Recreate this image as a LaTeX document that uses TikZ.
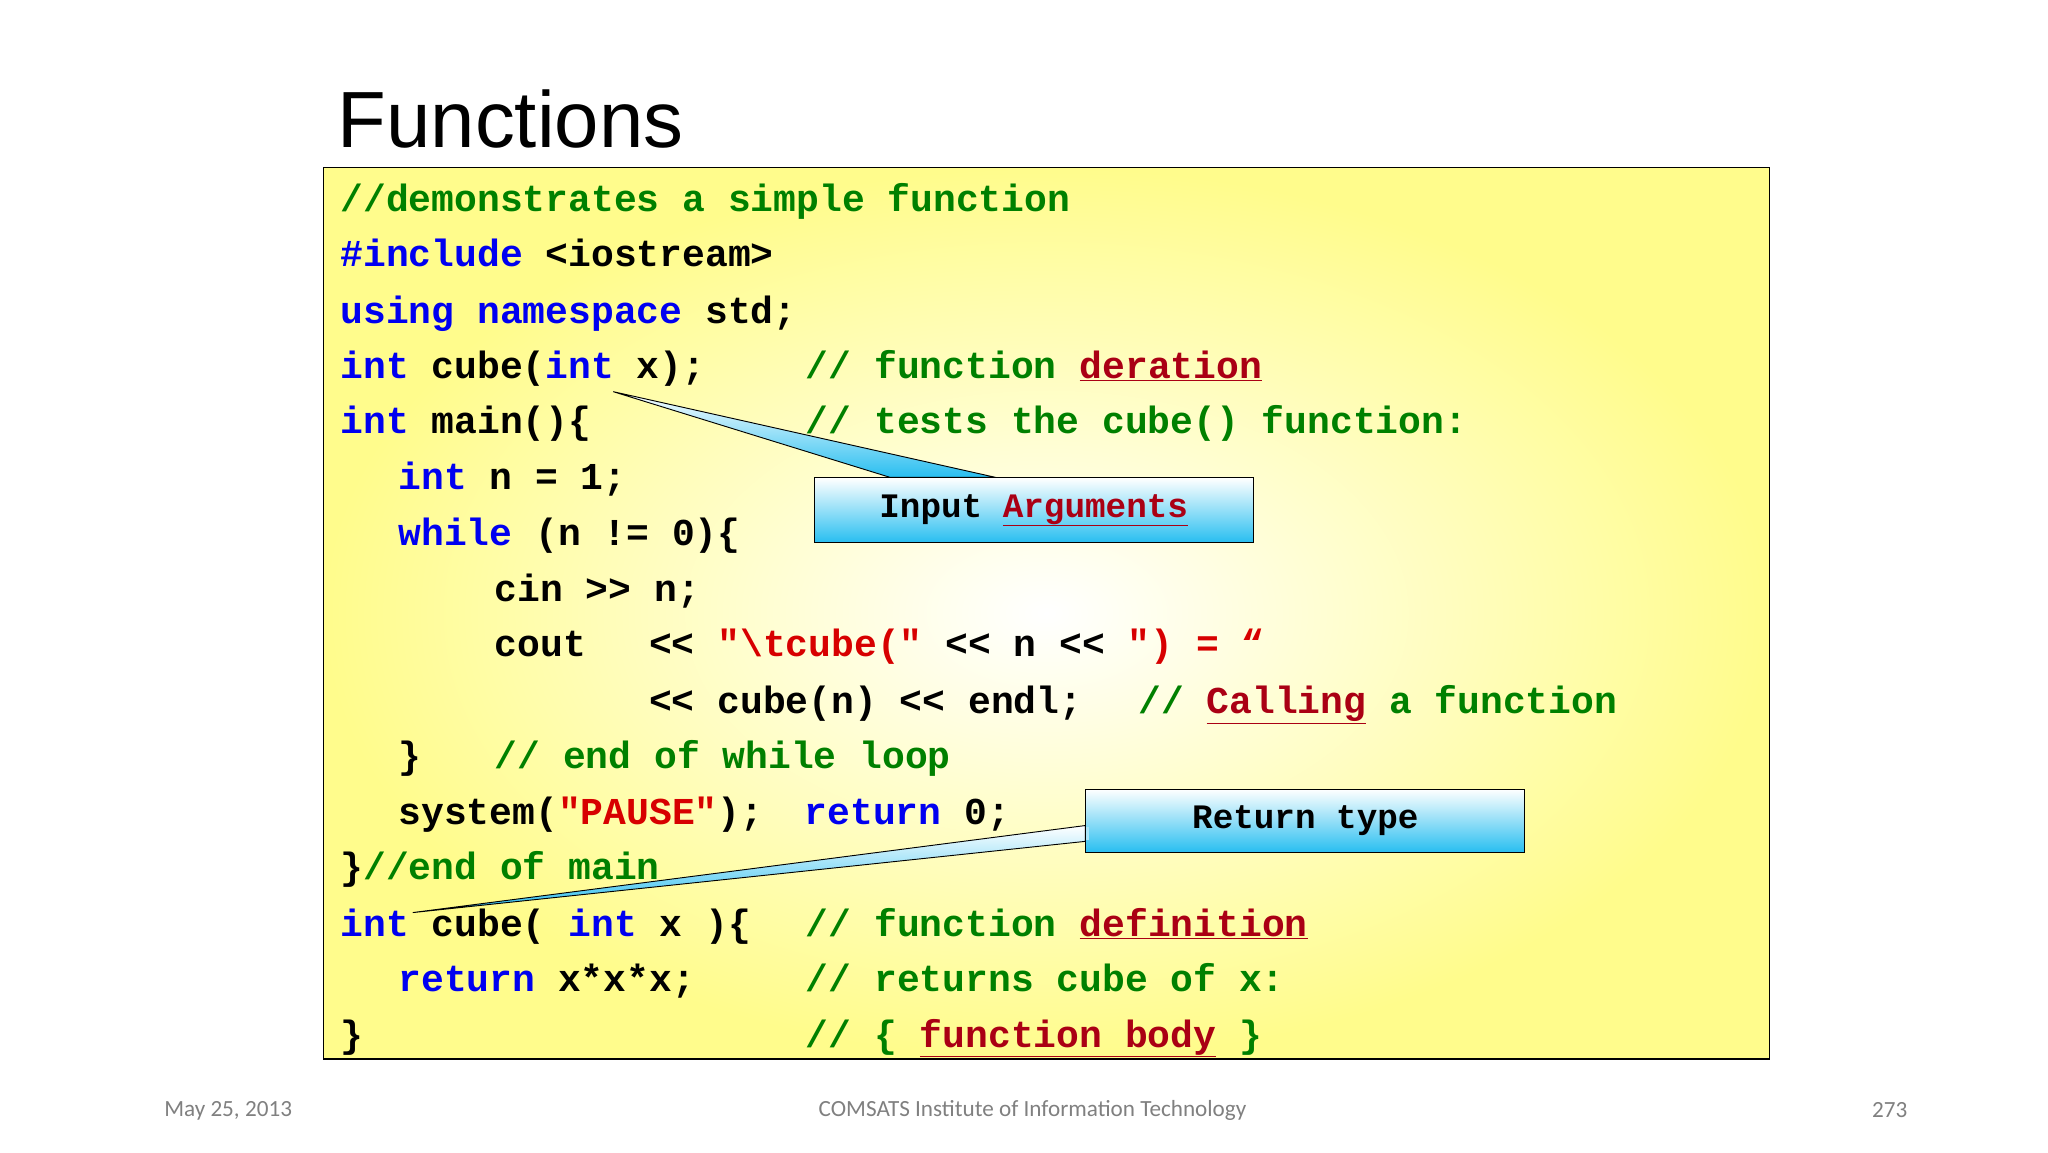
\documentclass[tikz,border=0pt]{standalone}
\usepackage{fontspec}
\setmainfont{Liberation Sans}
\newfontfamily\codef{Liberation Mono}[BoldFont={Liberation Mono Bold}]
\newfontfamily\footf{Carlito}
\definecolor{cgreen}{RGB}{0,128,0}
\definecolor{cblue}{RGB}{0,0,240}
\definecolor{cred}{RGB}{170,0,20}
\definecolor{sred}{RGB}{215,0,0}
\definecolor{boxyel}{RGB}{255,252,140}
\definecolor{calcyan}{RGB}{40,190,240}
\newcommand{\B}[1]{\textcolor{cblue}{#1}}
\newcommand{\G}[1]{\textcolor{cgreen}{#1}}
\newcommand{\R}[1]{\textcolor{sred}{#1}}
\newcommand{\U}[1]{\textcolor{cred}{\underline{#1}}}
\begin{document}
\begin{tikzpicture}[x=0.05cm,y=-0.05cm,
  code/.style={anchor=base west,inner sep=0pt,font=\codef\bfseries\fontsize{41}{41}\selectfont},
  callout/.style={draw=black,line width=1pt,top color=white,bottom color=calcyan},
  foot/.style={anchor=center,inner sep=0pt,text=gray,font=\footf\fontsize{25}{25}\selectfont}]
\useasboundingbox (0,0) rectangle (1553,873.6);
\fill[white] (0,0) rectangle (1553,873.6);
\node[anchor=base west,inner sep=0pt,font=\fontsize{86}{86}\selectfont] (title) at (256,112) {Functions};
\path[inner color=white,outer color=boxyel] (245,127) rectangle (1342,803);
\draw[line width=1.2pt] (245,127) rectangle (1342,803);
\node[code] (l1) at (258,160) {\G{//demonstrates a simple function}};
\node[code] (l2) at (258,202) {\B{\#include} <iostream>};
\node[code] (l3) at (258,245) {\B{using namespace} std;};
\node[code] (l4) at (258,287) {\B{int} cube(\B{int} x);};
\node[code] (l4c) at (611,287) {\G{// function \U{deration}}};
\node[code] (l5) at (258,329) {\B{int} main()\{};
\node[code] (l5c) at (611,329) {\G{// tests the cube() function:}};
\node[code] (l6) at (302,371) {\B{int} n = 1;};
\node[code] (l7) at (302,414) {\B{while} (n != 0)\{};
\node[code] (l8) at (375,456) {cin >> n;};
\node[code] (l9) at (375,498) {cout};
\node[code] (l9b) at (492,498) {<< \R{"\textbackslash tcube("} << n << \R{") = “}};
\node[code] (l10) at (492,541) {<< cube(n) << endl;};
\node[code] (l10c) at (863,541) {\G{// \U{Calling} a function}};
\node[code] (l11) at (302,583) {\}};
\node[code] (l11c) at (375,583) {\G{// end of while loop}};
\node[code] (l12) at (302,625) {system(\R{"PAUSE"});};
\node[code] (l12b) at (610,625) {\B{return} 0;};
\node[code] (l13) at (258,667) {\}\G{//end of main}};
\node[code] (l14) at (258,710) {\B{int} cube( \B{int} x )\{};
\node[code] (l14c) at (611,710) {\G{// function \U{definition}}};
\node[code] (l15) at (302,752) {\B{return} x*x*x;};
\node[code] (l15c) at (611,752) {\G{// returns cube of x:}};
\node[code] (l16) at (258,794) {\}};
\node[code] (l16c) at (611,794) {\G{// \{ \U{function body} \}}};
% callouts
\coordinate (p1) at (465,297);
\coordinate (p2) at (313,692);
\draw[callout] (p1) -- (675,362) -- (755,362) -- cycle;
\node[callout,minimum width=333*0.05cm,minimum height=49*0.05cm,anchor=north west,inner sep=0pt,
  font=\codef\bfseries\fontsize{37}{37}\selectfont] (inp) at (617,362) {Input \U{Arguments}};
\draw[callout] (p2) -- (823,626) -- (823,638) -- cycle;
\node[callout,minimum width=333*0.05cm,minimum height=48*0.05cm,anchor=north west,inner sep=0pt,
  font=\codef\bfseries\fontsize{37}{37}\selectfont] (ret) at (823,598) {Return type};
\fill[white!60!calcyan] (823.8,627) -- (823.8,637) -- (826,637) -- (826,627) -- cycle;
\node[foot] (f1) at (173,842) {May 25, 2013};
\node[foot] (f2) at (783,842) {COMSATS Institute of Information Technology};
\node[foot] (f3) at (1433,842) {273};
\end{tikzpicture}
\end{document}
